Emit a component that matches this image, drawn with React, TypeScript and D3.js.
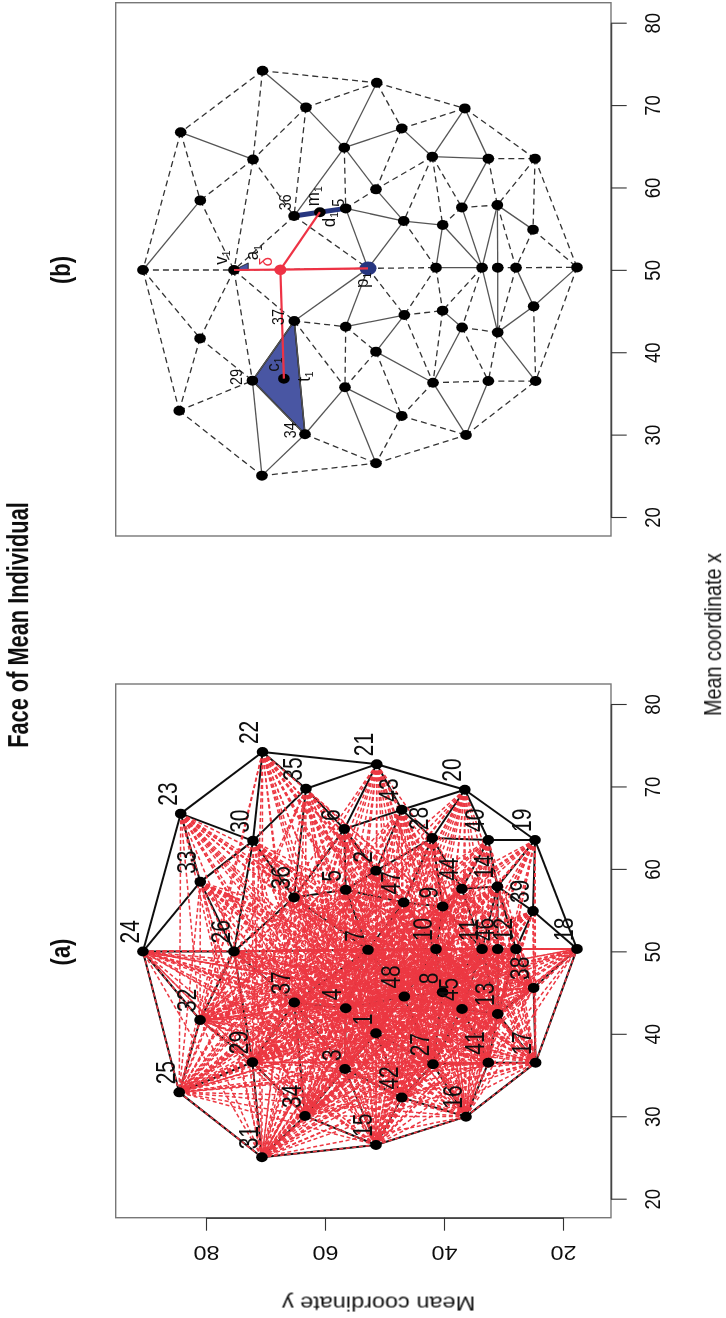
import { useRef, useEffect } from "react";
import * as d3 from "d3";

// landmark means, index 0 is landmark 1
const pointX = [
  40.07, 59.77, 35.74, 43.1, 57.46, 64.83, 50.18, 45.05, 55.44, 50.27, 50.27, 50.27,
  42.41, 57.86, 26.52, 29.95, 36.5, 50.3, 63.5, 69.6, 72.7, 74.17, 66.7, 49.98,
  32.9, 49.98, 36.3, 63.74, 36.55, 63.4, 25.02, 41.68, 58.43, 30.04, 69.72, 56.53,
  43.79, 45.57, 54.88, 63.5, 36.5, 32.26, 67.17, 57.58, 43.0, 50.27, 55.92, 44.51,
];
const pointY = [
  51.43, 51.43, 56.64, 56.52, 56.52, 56.76, 52.77, 40.24, 40.22, 41.34, 33.61, 27.9,
  30.97, 31.03, 51.43, 36.3, 24.6, 17.65, 24.7, 36.5, 51.3, 70.5, 84.25, 90.6,
  84.5, 75.3, 41.85, 41.97, 72.2, 72.1, 70.6, 81.0, 80.96, 63.36, 63.2, 65.2,
  65.16, 24.94, 25.04, 32.55, 32.55, 47.1, 47.1, 37.0, 36.97, 30.97, 46.77, 46.67,
];

const solidEdges = [
  [22, 35], [35, 6], [21, 6], [6, 43], [6, 2], [6, 36], [23, 30], [33, 24], [5, 47], [5, 7],
  [2, 47], [47, 7], [43, 28], [20, 28], [20, 40], [28, 40], [40, 44], [14, 39], [14, 46],
  [14, 11], [44, 11], [47, 9], [9, 10], [9, 11], [10, 11], [46, 13], [11, 13], [12, 38],
  [38, 18], [38, 13], [13, 17], [48, 1], [8, 45], [45, 27], [27, 16], [41, 16], [27, 1],
  [29, 31], [31, 34], [34, 3], [37, 7], [4, 7], [4, 48], [3, 42], [3, 15],
  [29, 37], [29, 34], [37, 34], [36, 5],
];
const dashedEdges = [
  [22, 21], [22, 23], [22, 30], [35, 21], [35, 30], [35, 36], [6, 5], [21, 43], [21, 20],
  [23, 33], [23, 24], [30, 33], [30, 26], [30, 36], [33, 26], [36, 26], [36, 7], [5, 2],
  [2, 43], [24, 26], [43, 20], [20, 19], [28, 2], [28, 47], [28, 9], [28, 44], [40, 19],
  [40, 14], [19, 14], [19, 39], [19, 18], [14, 44], [14, 12], [39, 12], [39, 18], [44, 9],
  [47, 10], [7, 10], [7, 48], [10, 48], [10, 8], [11, 8], [11, 45], [11, 46], [46, 12],
  [12, 18], [12, 13], [13, 45], [13, 41], [38, 17], [18, 17], [48, 8], [48, 27], [8, 27],
  [45, 41], [27, 41], [41, 17], [16, 17], [27, 42], [42, 16], [42, 15], [1, 42], [15, 16],
  [24, 32], [24, 25], [26, 32], [26, 29], [26, 37], [32, 25], [32, 29], [25, 29], [25, 31],
  [31, 15], [34, 15], [37, 3], [37, 4], [4, 1], [4, 3], [3, 1], [26, 7],
];

// landmarks on the vertical midline of the face
const midline = [24, 26, 7, 10, 11, 46, 12, 18];

const xTicks = [20, 30, 40, 50, 60, 70, 80];
const yTicks = [20, 40, 60, 80];

// panel (b) construction
const eyeTriangle = [29, 37, 34];
const mouthEnds = [36, 5];
const noseTip = 7;
const browPoint = 26;
const deltaPoint = [50.02, 67.5];
const wedgeCorners = [[50.84, 72.9], [49.98, 72.9]];

const NAVY = "#28347f";
const RED = "#ee3344";

export default function App() {
  const ref = useRef<SVGSVGElement>(null);

  useEffect(() => {
    const svg = d3.select(ref.current);
    svg.selectAll("*").remove();

    svg
      .append("defs")
      .append("filter")
      .attr("id", "soft")
      .attr("filterUnits", "userSpaceOnUse")
      .attr("x", 0)
      .attr("y", 0)
      .attr("width", 726)
      .attr("height", 1318)
      .append("feGaussianBlur")
      .attr("stdDeviation", 0.45);

    const root = svg.append("g").attr("filter", "url(#soft)");

    // the page is turned on its side: x runs up the page, y runs right to left
    const y = d3.scaleLinear().domain([20, 80]).range([563, 206]);

    function label(
      g: any,
      str: string,
      cx: number,
      cy: number,
      angle: number,
      size: number,
      ratio: number,
      anchor = "middle",
      sub = ""
    ) {
      const t = g
        .append("text")
        .attr("transform", `translate(${cx},${cy}) rotate(${angle}) scale(1,${ratio})`)
        .attr("dy", ".358em")
        .attr("text-anchor", anchor)
        .attr("font-family", "'Liberation Sans', Arial, sans-serif")
        .attr("font-size", size)
        .attr("fill", "#111")
        .text(str);
      if (sub) t.append("tspan").attr("font-size", size * 0.6).attr("dy", "0.3em").text(sub);
      return t;
    }

    function panel(top: number, bottom: number, x1: number, x0: number, withY: boolean) {
      const x = d3.scaleLinear().domain([20, 80]).range([x0, x1]);
      const g = root.append("g");
      const px = (id: number) => y(pointY[id - 1]);
      const py = (id: number) => x(pointX[id - 1]);

      g.append("rect")
        .attr("x", 115.7)
        .attr("y", top)
        .attr("width", 611 - 115.7)
        .attr("height", bottom - top)
        .attr("fill", "#fff")
        .attr("stroke", "#777")
        .attr("stroke-width", 1.4);

      const xAxis = g
        .append("g")
        .attr("transform", "translate(611,0)")
        .call(d3.axisRight(x).tickValues(xTicks).tickSize(15.7).tickSizeOuter(0));
      xAxis.select(".domain").attr("stroke", "#444").attr("stroke-width", 1.5);
      xAxis.selectAll("line").attr("stroke", "#333").attr("stroke-width", 1.1);
      xAxis
        .selectAll("text")
        .attr("x", null)
        .attr("dy", ".358em")
        .attr("text-anchor", "middle")
        .attr("font-family", "'Liberation Sans', Arial, sans-serif")
        .attr("font-size", 18.5)
        .attr("fill", "#111")
        .attr("transform", "translate(41,0) rotate(-90) scale(1,1.17)");

      if (withY) {
        const yAxis = g
          .append("g")
          .attr("transform", `translate(0,${bottom})`)
          .call(d3.axisBottom(y).tickValues(yTicks).tickSize(13).tickSizeOuter(0));
        yAxis.select(".domain").attr("stroke", "#444").attr("stroke-width", 1.5);
        yAxis.selectAll("line").attr("stroke", "#333").attr("stroke-width", 1.1);
        yAxis
          .selectAll("text")
          .attr("y", null)
          .attr("dy", ".358em")
          .attr("text-anchor", "middle")
          .attr("font-family", "'Liberation Sans', Arial, sans-serif")
          .attr("font-size", 23.4)
          .attr("fill", "#111")
          .attr("transform", "translate(0,36) rotate(180) scale(1,.89)");
      }
      return { g, x, px, py };
    }

    function edges(g: any, list: number[][], px: any, py: any, stroke: string, w: number, dash: string | null) {
      g.append("g")
        .selectAll("line")
        .data(list)
        .join("line")
        .attr("x1", (d: number[]) => px(d[0]))
        .attr("y1", (d: number[]) => py(d[0]))
        .attr("x2", (d: number[]) => px(d[1]))
        .attr("y2", (d: number[]) => py(d[1]))
        .attr("stroke", stroke)
        .attr("stroke-width", w)
        .attr("stroke-dasharray", dash);
    }

    function dots(g: any, ids: number[], px: any, py: any) {
      g.append("g")
        .selectAll("ellipse")
        .data(ids)
        .join("ellipse")
        .attr("cx", px)
        .attr("cy", py)
        .attr("rx", 5.8)
        .attr("ry", 5)
        .attr("fill", "#000");
    }

    const ids = d3.range(1, pointX.length + 1);
    const sideIds = ids.filter((id) => !midline.includes(id));
    const lowerIds = sideIds.filter((id) => pointX[id - 1] < 50);
    const upperIds = sideIds.filter((id) => pointX[id - 1] >= 50);

    // (a) web of distances: all pairs on the lower half and midline, upper half only across
    const a = panel(684, 1217.7, 704, 1198.7, true);
    edges(a.g, [...solidEdges, ...dashedEdges], a.px, a.py, "#111", 2, null);
    const lowerAll = [...lowerIds, ...midline];
    const webPairs = [
      ...lowerAll.flatMap((i, k) => lowerAll.slice(k + 1).map((j) => [i, j])),
      ...upperIds.flatMap((i) => lowerIds.map((j) => [i, j])),
    ];
    edges(a.g, webPairs, a.px, a.py, "#ec3843", 1.5, "4 2.6");
    dots(a.g, ids, a.px, a.py);
    ids.forEach((id) => label(a.g, String(id), a.px(id) - 14, a.py(id) - 8, -90, 21, 1.3, "start"));

    // (b) mesh and the distances used
    const b = panel(2.7, 536, 22.7, 517, false);
    const { x } = b;
    const eyeX = d3.mean(eyeTriangle, b.px)!;
    const eyeY = d3.mean(eyeTriangle, b.py)!;
    const mouthX = d3.mean(mouthEnds, b.px)!;
    const mouthY = d3.mean(mouthEnds, b.py)!;
    const deltaX = y(deltaPoint[1]);
    const deltaY = x(deltaPoint[0]);

    b.g
      .append("polygon")
      .attr("points", eyeTriangle.map((id) => `${b.px(id)},${b.py(id)}`).join(" "))
      .attr("fill", "#4a56a3")
      .attr("stroke", "#111")
      .attr("stroke-width", 1.6);
    b.g
      .append("polygon")
      .attr(
        "points",
        [[b.px(browPoint), b.py(browPoint)], ...wedgeCorners.map((c) => [y(c[1]), x(c[0])])].join(" ")
      )
      .attr("fill", "#4a56a3")
      .attr("stroke", "#111")
      .attr("stroke-width", 0.8);

    const meshSolid = solidEdges.filter((e) => !(e[0] === 36 && e[1] === 5));
    edges(b.g, meshSolid, b.px, b.py, "#555", 1.3, null);
    edges(b.g, dashedEdges, b.px, b.py, "#333", 1.3, "6 4");
    edges(b.g, [mouthEnds], b.px, b.py, NAVY, 5, null);

    b.g
      .append("ellipse")
      .attr("cx", b.px(noseTip))
      .attr("cy", b.py(noseTip))
      .attr("rx", 8.5)
      .attr("ry", 6.8)
      .attr("fill", NAVY);

    dots(b.g, ids.filter((id) => id !== noseTip), b.px, b.py);
    b.g.append("ellipse").attr("cx", mouthX).attr("cy", mouthY).attr("rx", 5.8).attr("ry", 5);
    b.g.append("ellipse").attr("cx", eyeX).attr("cy", eyeY).attr("rx", 5.8).attr("ry", 5);

    const spokes = [
      [b.px(noseTip), b.py(noseTip)],
      [b.px(browPoint), b.py(browPoint)],
      [eyeX, eyeY],
      [mouthX, mouthY],
    ];
    b.g
      .append("g")
      .selectAll("line")
      .data(spokes)
      .join("line")
      .attr("x1", deltaX)
      .attr("y1", deltaY)
      .attr("x2", (d) => d[0])
      .attr("y2", (d) => d[1])
      .attr("stroke", RED)
      .attr("stroke-width", 2.2);
    b.g
      .append("ellipse")
      .attr("cx", deltaX)
      .attr("cy", deltaY)
      .attr("rx", 6)
      .attr("ry", 5.3)
      .attr("fill", RED);

    const small = (str: string, sub: string, ax: number, ay: number, dx: number, dy: number) =>
      label(b.g, str, ax + dx, ay + dy, -90, sub || str === "δ" ? 17 : 14.4, 1.1, "middle", sub);
    small("36", "", b.px(36), b.py(36), -9, -13.7);
    small("5", "", b.px(5), b.py(5), -7.7, -5.7);
    small("m", "1", mouthX, mouthY, -8, -16);
    small("d", "1", mouthX, mouthY, 8, 7.5);
    small("a", "1", b.px(26), b.py(26), 17.7, -17.4);
    small("v", "1", b.px(26), b.py(26), -14, -12.4);
    small("p", "1", b.px(7), b.py(7), -7, 12);
    small("37", "", b.px(37), b.py(37), -16, -4);
    small("c", "1", eyeX, eyeY, -12, -14);
    small("t", "1", eyeX, eyeY, 19.4, -2);
    small("29", "", b.px(29), b.py(29), -15.6, -3.7);
    small("34", "", b.px(34), b.py(34), -15, -4);
    small("δ", "", deltaX, deltaY, -15, -8).attr("fill", RED);

    // titles
    label(root, "Face of Mean Individual", 18, 625, -90, 21.8, 1.35).attr("font-weight", "bold");
    label(root, "(a)", 60, 952, -90, 22, 1.23).attr("font-weight", "bold");
    label(root, "(b)", 60, 270, -90, 22, 1.23).attr("font-weight", "bold");
    label(root, "Mean coordinate x", 712.5, 634.5, -90, 19.8, 1.2);
    label(root, "Mean coordinate y", 378.5, 1304, 180, 23.5, 0.89);
  }, []);

  return (
    <svg
      ref={ref}
      width={726}
      height={1318}
      style={{ position: "absolute", left: 0, top: 0, display: "block", background: "#fff" }}
    />
  );
}
